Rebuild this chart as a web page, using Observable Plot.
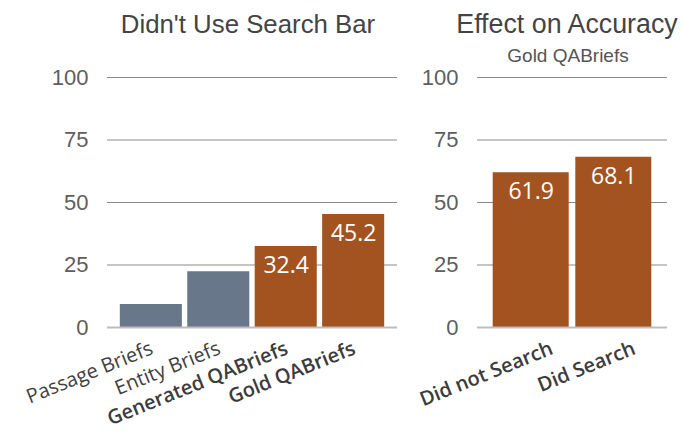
<!DOCTYPE html>
<html>
<head>
<meta charset="utf-8">
<script src="https://cdn.jsdelivr.net/npm/d3@7"></script>
<script src="https://cdn.jsdelivr.net/npm/@observablehq/plot@0.6"></script>
<style>
  html, body { margin: 0; padding: 0; background: #fff; }
  #wrap { position: relative; width: 681px; height: 434px; overflow: hidden; }
  .panel { position: absolute; top: 0; }
  .panel svg { overflow: visible; }
  .title { position: absolute; font-family: "Liberation Sans", Arial, sans-serif; color: #444; text-align: center; line-height: 1; white-space: nowrap; }
</style>
</head>
<body>
<div id="wrap">
  <div class="title" style="left:48px; width:400px; top:12px; font-size:25.8px;">Didn't Use Search Bar</div>
  <div class="title" style="left:367px; width:400px; top:11px; font-size:26.8px;">Effect on Accuracy</div>
  <div class="title" style="left:368px; width:400px; top:46px; font-size:19px; color:#555;">Gold QABriefs</div>
  <div class="panel" id="left" style="left:0px;"></div>
  <div class="panel" id="right" style="left:400px;"></div>
</div>
<script>
// ---- data ----
const leftCategories = ["Passage Briefs", "Entity Briefs", "Generated QABriefs", "Gold QABriefs"];
const leftValues = [9.2, 22.3, 32.4, 45.2];
const leftGroups = ["brief", "brief", "qabrief", "qabrief"];
const rightCategories = ["Did not Search", "Did Search"];
const rightValues = [61.9, 68.1];
const rightGroups = ["qabrief", "qabrief"];
const boldLabels = ["Generated QABriefs", "Gold QABriefs", "Did not Search", "Did Search"];
const labelledGroups = ["qabrief"];
const yTicks = [0, 25, 50, 75, 100];

const colors = {brief: "#687789", qabrief: "#a2531f"};

function panel(cats, vals, groups, o) {
  const rows = cats.map((c, i) => ({cat: c, value: vals[i], group: groups[i]}));
  const normal = rows.filter(d => !boldLabels.includes(d.cat));
  const bold = rows.filter(d => boldLabels.includes(d.cat));
  const labelled = rows.filter(d => labelledGroups.includes(d.group));
  return Plot.plot({
    width: o.width,
    height: 434,
    marginTop: 77,
    marginBottom: 107,
    marginLeft: o.marginLeft,
    marginRight: o.marginRight,
    style: {fontFamily: "'Liberation Sans', Arial, sans-serif", background: "transparent", overflow: "visible"},
    x: {type: "band", domain: cats, paddingInner: 0.08, paddingOuter: 0.19, round: false, axis: null},
    y: {domain: [0, 100], axis: null},
    marks: [
      Plot.ruleY(yTicks.filter(t => t > 0), {stroke: "#8a8a8a", strokeWidth: 1}),
      Plot.axisY({ticks: yTicks, tickSize: 0, tickPadding: 19, fontSize: 22, fill: "#5e5e5e", label: null, tickFormat: d => String(d)}),
      Plot.barY(rows, {x: "cat", y: "value", fill: d => colors[d.group]}),
      Plot.ruleY([0], {stroke: "#bdbdbd", strokeWidth: 2}),
      Plot.text(labelled, {x: "cat", y: "value", text: d => d.value.toFixed(1), fill: "white",
        fontFamily: "'Open Sans', sans-serif", fontSize: 23, lineAnchor: "top", dy: 10}),
      Plot.text(normal, {x: "cat", frameAnchor: "bottom", text: "cat", rotate: -22, textAnchor: "end",
        lineAnchor: "bottom", dx: o.dx, dy: 26, fontFamily: "'Open Sans', sans-serif", fontSize: 20, fill: "#404040"}),
      Plot.text(bold, {x: "cat", frameAnchor: "bottom", text: "cat", rotate: -22, textAnchor: "end",
        lineAnchor: "bottom", dx: o.dx, dy: 26, fontFamily: "'Open Sans', sans-serif", fontSize: 20, fontWeight: 600, fill: "#3c3c3c"})
    ]
  });
}

document.getElementById("left").append(panel(leftCategories, leftValues, leftGroups, {width: 400, marginLeft: 107, marginRight: 3, dx: 3}));
document.getElementById("right").append(panel(rightCategories, rightValues, rightGroups, {width: 281, marginLeft: 77, marginRight: 14, dx: 23}));
</script>
</body>
</html>
